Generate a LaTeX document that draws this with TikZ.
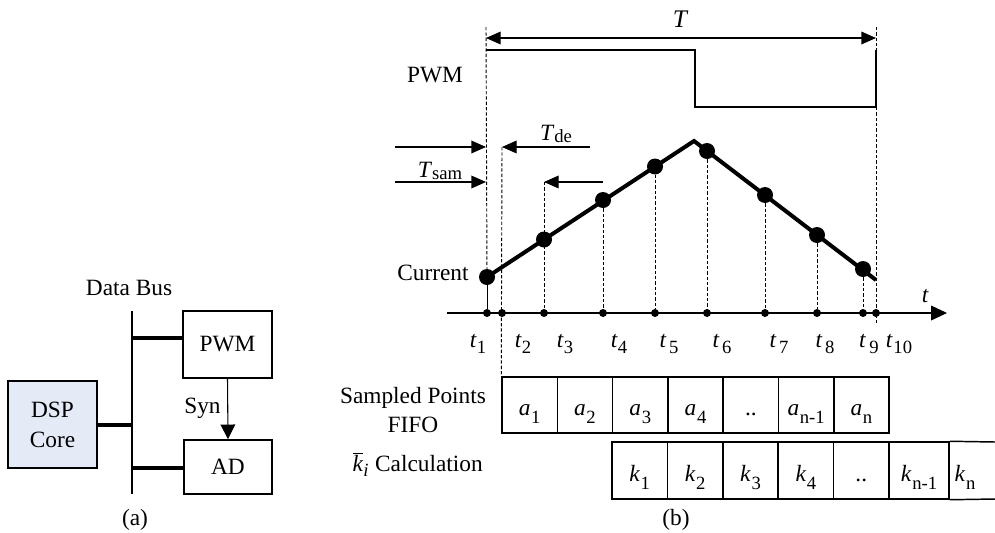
\documentclass[tikz,border=0pt]{standalone}
\usepackage{fontspec}
\setmainfont{Liberation Serif}
\usetikzlibrary{arrows.meta}
\definecolor{dspfill}{RGB}{228,235,247}
\newcommand{\sbx}[4]{\textit{#1}\hspace{#2}\raisebox{-#3}{\fontsize{14}{14}\selectfont #4}}
\begin{document}
\begin{tikzpicture}[x=0.75pt,y=-0.75pt,
  fnt/.style={font=\fontsize{17.5}{21}\selectfont},
  txt/.style={fnt, inner sep=0pt, anchor=base},
  blk/.style={draw, line width=1.2pt, inner sep=0pt, fnt},
  cellbox/.style={draw, line width=1.1pt, inner sep=0pt, fnt, text height=18pt, text depth=2pt},
  fcell/.style={cellbox, minimum height=42pt, minimum width=41.475pt},
  kcell/.style={cellbox, minimum height=42.75pt, minimum width=41.55pt},
  cellline/.style={line width=1.1pt},
  busline/.style={line width=0.8pt},
  buslink/.style={line width=3pt},
  wave/.style={line width=1pt},
  dsh/.style={line width=0.7pt, dash pattern=on 2.5pt off 1.5pt},
  cur/.style={line width=3pt},
  bigdot/.style={circle, fill, inner sep=0pt, minimum size=12pt},
  smalldot/.style={circle, fill, inner sep=0pt, minimum size=6pt},
  arr/.style={-{Triangle[length=11pt,width=9.5pt]}},
]
\useasboundingbox (0,0) rectangle (995,532);

% ---------- panel (a)
\node[txt] (databus) at (129,295) {Data Bus};
\node[blk, minimum width=66.75pt, minimum height=50.25pt] (pwm) at (227.5,344.5) {PWM};
\node[blk, minimum width=66pt, minimum height=40.5pt] (ad) at (228,467) {AD};
\node[blk, fill=dspfill, minimum width=66.75pt, minimum height=65.25pt, align=center,
      font=\fontsize{17.5}{22.5}\selectfont] (dsp) at (52.5,424.5) {DSP\\Core};
\coordinate (bustop) at (132,311);
\coordinate (busbot) at (132,494);
\draw[busline] (bustop) -- (busbot);
\coordinate (bp) at (132,338);
\coordinate (ba) at (132,468);
\draw[buslink] (bp) -- (bp -| pwm.west);
\draw[buslink] (dsp.east) -- (dsp.east -| bustop);
\draw[buslink] (ba) -- (ba -| ad.west);
\draw[busline, -{Triangle[length=11pt,width=11pt]}] (pwm.south) -- (ad.north);
\node[txt] (syn) at (202.5,413) {Syn};
\node[txt] (capa) at (135,525) {(a)};

% ---------- panel (b) labels
\node[txt] (pwmlbl) at (435,82) {PWM};
\node[txt] (curlbl) at (433,280) {Current};
\node[txt, font=\fontsize{19}{21}\selectfont\itshape] (Tlbl) at (680,27) {T};
\node[txt] (tde) at (556,140) {\textit{T}\raisebox{-2.2pt}{\fontsize{14}{14}\selectfont de}};
\node[txt] (tsam) at (440,177) {\textit{T}\raisebox{-1.5pt}{\fontsize{14}{14}\selectfont sam}};
\node[txt, font=\fontsize{17.5}{21}\selectfont\itshape] (tax) at (925,302) {t};

% PWM waveform
\coordinate (p0) at (486,50);
\coordinate (p1) at (695,50);
\coordinate (p2) at (695,107);
\coordinate (p3) at (876,107);
\coordinate (p4) at (876,50);
\draw[wave] (p0) -- (p1) -- (p2) -- (p3) -- (p4);
\coordinate (Ta) at (486,38);
\coordinate (Tb) at (876,38);
\draw[wave, {Triangle[length=11pt,width=9.5pt]}-{Triangle[length=11pt,width=9.5pt]}] (Ta) -- (Tb);

% current waveform
\node[bigdot] (c1) at (487,277) {};
\node[bigdot] (c3) at (544,239.5) {};
\node[bigdot] (c4) at (603,200) {};
\node[bigdot] (c5) at (655,166.5) {};
\node[bigdot] (c6) at (707,151) {};
\node[bigdot] (c7) at (765,195) {};
\node[bigdot] (c8) at (817,235) {};
\node[bigdot] (c9) at (863,269) {};
\coordinate (peak) at (694,141);
\coordinate (cend) at (876,280);
\draw[cur] (c1.center) -- (peak) -- (cend);

% time axis
\coordinate (ax0) at (447,313);
\coordinate (ax1) at (947,313);
\draw[line width=1.2pt, -{Triangle[length=12pt,width=11pt]}] (ax0) -- (ax1);
\foreach \x [count=\i] in {487,502,544,603,655,707,765,817,863,876}
  \node[smalldot] (a\i) at (\x,313) {};

% T_de / T_sam arrows
\coordinate (ta1) at (395,147);
\coordinate (ta2) at (486,147);
\coordinate (ta3) at (590,147);
\coordinate (ta4) at (502,147);
\coordinate (tb1) at (395,182);
\coordinate (tb2) at (486,182);
\coordinate (tb3) at (603,182);
\coordinate (tb4) at (544,182);
\draw[wave, arr] (ta1) -- (ta2);
\draw[wave, arr] (ta3) -- (ta4);
\draw[wave, arr] (tb1) -- (tb2);
\draw[wave, arr] (tb3) -- (tb4);

% FIFO cells
\node[fcell] (f1) at (529.65,405) {\sbx{a}{0.5pt}{5.5pt}{1}};
\node[fcell] (f2) at (584.95,405) {\sbx{a}{0.5pt}{5.5pt}{2}};
\node[fcell] (f3) at (640.25,405) {\sbx{a}{0.5pt}{5.5pt}{3}};
\node[fcell] (f4) at (695.55,405) {\sbx{a}{0.5pt}{5.5pt}{4}};
\node[fcell] (f5) at (750.85,405) {..};
\node[fcell] (f6) at (806.15,405) {\sbx{a}{0.5pt}{5.5pt}{n-1}};
\node[fcell] (f7) at (861.45,405) {\sbx{a}{0.5pt}{5.5pt}{n}};

% dashed verticals
\coordinate (v1top) at (486,27);
\coordinate (v10top) at (876,27);
\coordinate (v10bot) at (876,323);
\draw[dsh] (v1top) -- (c1.center);
\draw[line width=0.7pt] (c1) -- (a1);
\draw[dsh] (ta4) -- (f1.north west);
\draw[dsh] (tb4) -- (a3);
\draw[dsh] (c4) -- (a4);
\draw[dsh] (c5) -- (a5);
\draw[dsh] (c6) -- (a6);
\draw[dsh] (c7) -- (a7);
\draw[dsh] (c8) -- (a8);
\draw[dsh] (c9) -- (a9);
\draw[dsh] (v10top) -- (v10bot);

% time labels
\node[txt] (l1) at (478,347) {\sbx{t}{0pt}{5pt}{1}};
\node[txt] (l2) at (523,347) {\sbx{t}{0pt}{5pt}{2}};
\node[txt] (l3) at (565,347) {\sbx{t}{0pt}{5pt}{3}};
\node[txt] (l4) at (619,347) {\sbx{t}{0pt}{5pt}{4}};
\node[txt] (l5) at (669,347) {\sbx{t}{2pt}{5pt}{5}};
\node[txt] (l6) at (722,347) {\sbx{t}{2pt}{5pt}{6}};
\node[txt] (l7) at (779,347) {\sbx{t}{2pt}{5pt}{7}};
\node[txt] (l8) at (825,347) {\sbx{t}{2pt}{5pt}{8}};
\node[txt] (l9) at (869,347) {\sbx{t}{2.5pt}{5pt}{9}};
\node[txt] (l10) at (899,347) {\sbx{t}{0.5pt}{5pt}{10}};

% k cells
\node[kcell] (k1) at (639.7,470.5) {\sbx{k}{0.5pt}{6pt}{1}};
\node[kcell] (k2) at (695.1,470.5) {\sbx{k}{0.5pt}{6pt}{2}};
\node[kcell] (k3) at (750.5,470.5) {\sbx{k}{0.5pt}{6pt}{3}};
\node[kcell] (k4) at (805.9,470.5) {\sbx{k}{0.5pt}{6pt}{4}};
\node[kcell] (k5) at (861.3,470.5) {..};
\node[kcell, minimum width=45pt] (k6) at (919,470.5) {\sbx{k}{0.5pt}{6pt}{n-1}};
\node[txt] (k7) at (965,481) {\sbx{k}{0.5pt}{6pt}{n}};
\coordinate (kr1) at (995,442);
\coordinate (kr2) at (995,499);
\draw[cellline] (k6.north east) -- (kr1);
\draw[cellline] (k6.south east) -- (kr2);

% row labels
\node[txt] (sp) at (413,403) {Sampled Points};
\node[txt] (fifo) at (413,432) {FIFO};
\node[txt, anchor=base east] (calc) at (483,471)
  {$\overline{\mbox{\textit{k}}}$\raisebox{-4pt}{\fontsize{14}{14}\selectfont\textit{i}}\hspace{5pt}Calculation};
\node[txt] (capb) at (676,525) {(b)};
\end{tikzpicture}
\end{document}
